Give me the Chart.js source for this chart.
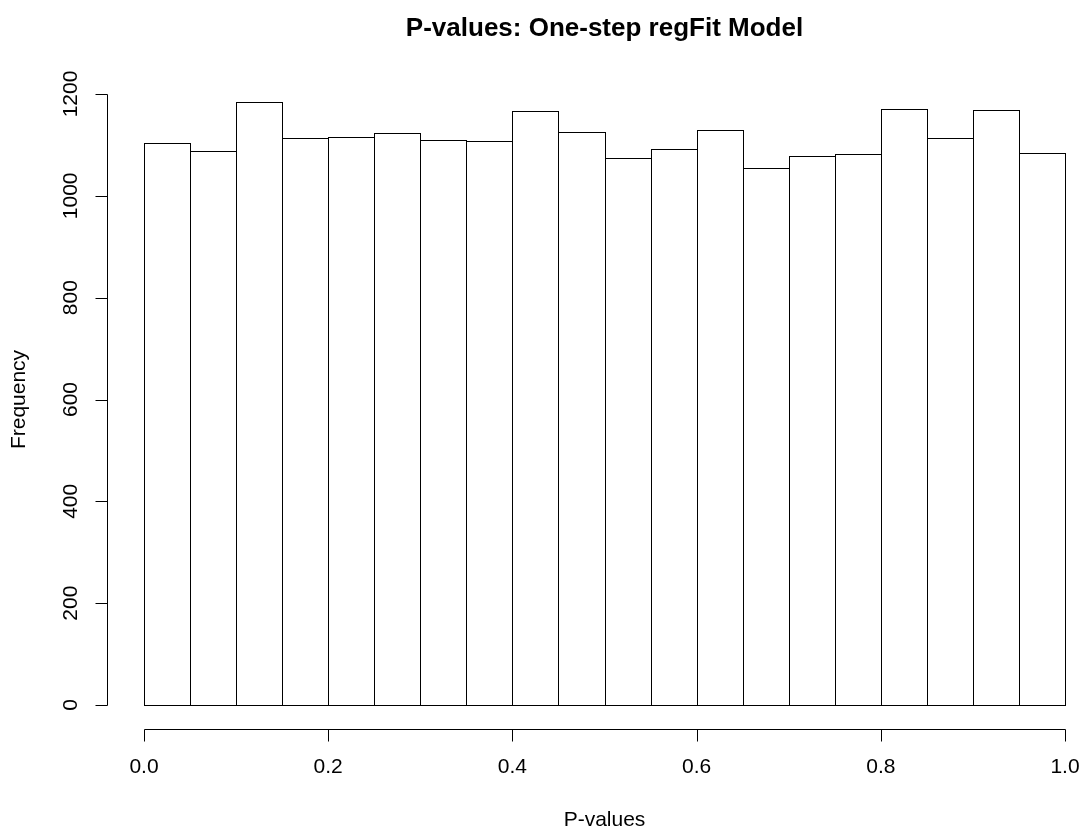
<!DOCTYPE html>
<html>
<head>
<meta charset="utf-8">
<title>P-values: One-step regFit Model</title>
<script src="https://cdn.jsdelivr.net/npm/chart.js@4.4.0/dist/chart.umd.min.js"></script>
<style>
    html, body { margin: 0; padding: 0; background: #fff; }
    canvas { display: block; }
</style>
</head>
<body>
<canvas id="hist" width="1082" height="832"></canvas>
<script>
// histogram bins (20 bins of width 0.05) and their counts
const binLabels = ['0.00-0.05', '0.05-0.10', '0.10-0.15', '0.15-0.20', '0.20-0.25',
                   '0.25-0.30', '0.30-0.35', '0.35-0.40', '0.40-0.45', '0.45-0.50',
                   '0.50-0.55', '0.55-0.60', '0.60-0.65', '0.65-0.70', '0.70-0.75',
                   '0.75-0.80', '0.80-0.85', '0.85-0.90', '0.90-0.95', '0.95-1.00'];
const counts = [1103, 1088, 1184, 1113, 1116, 1124, 1110, 1108, 1167, 1126,
                1074, 1092, 1129, 1055, 1079, 1082, 1171, 1113, 1168, 1085];

// axis ticks
const xTicks = [0, 0.2, 0.4, 0.6, 0.8, 1.0];
const xTickLabels = ['0.0', '0.2', '0.4', '0.6', '0.8', '1.0'];
const yTicks = [0, 200, 400, 600, 800, 1000, 1200];
const yTickLabels = ['0', '200', '400', '600', '800', '1000', '1200'];

const titleText = 'P-values: One-step regFit Model';
const xTitle = 'P-values';
const yTitle = 'Frequency';

const FONT = '"Liberation Sans", Arial, Helvetica, sans-serif';

// snap to a pixel centre the same way for shared bar edges
const crisp = v => Math.round(Math.round(v * 100) / 100) + 0.5;

// R style: outlined bars, axes pulled away from the plot region
const rStyle = {
    id: 'rStyle',
    afterDatasetsDraw(chart) {
        const ctx = chart.ctx;
        const meta = chart.getDatasetMeta(0);
        ctx.save();
        ctx.strokeStyle = '#000';
        ctx.lineWidth = 1;
        meta.data.forEach(bar => {
            const p = bar.getProps(['x', 'y', 'width', 'base'], true);
            const l = crisp(p.x - p.width / 2);
            const r = crisp(p.x + p.width / 2);
            const t = crisp(p.y);
            const b = crisp(p.base);
            ctx.strokeRect(l, t, r - l, b - t);
        });
        ctx.restore();
    },
    afterDraw(chart) {
        const ctx = chart.ctx;
        const area = chart.chartArea;
        const xs = chart.scales.xp;
        const ys = chart.scales.y;
        ctx.save();
        ctx.strokeStyle = '#000';
        ctx.fillStyle = '#000';
        ctx.lineWidth = 1;

        // x axis
        const ax = crisp(area.bottom + 24);
        ctx.beginPath();
        ctx.moveTo(crisp(xs.getPixelForValue(xTicks[0])), ax);
        ctx.lineTo(crisp(xs.getPixelForValue(xTicks[xTicks.length - 1])), ax);
        xTicks.forEach(v => {
            const px = crisp(xs.getPixelForValue(v));
            ctx.moveTo(px, ax);
            ctx.lineTo(px, ax + 12);
        });
        ctx.stroke();

        // y axis
        const ay = crisp(area.left - 37);
        ctx.beginPath();
        ctx.moveTo(ay, crisp(ys.getPixelForValue(yTicks[0])));
        ctx.lineTo(ay, crisp(ys.getPixelForValue(yTicks[yTicks.length - 1])));
        yTicks.forEach(v => {
            const py = crisp(ys.getPixelForValue(v));
            ctx.moveTo(ay, py);
            ctx.lineTo(ay - 12, py);
        });
        ctx.stroke();

        // tick labels
        ctx.font = '21px ' + FONT;
        ctx.textAlign = 'center';
        ctx.textBaseline = 'middle';
        xTicks.forEach((v, i) => {
            ctx.fillText(xTickLabels[i], xs.getPixelForValue(v), ax + 38);
        });
        yTicks.forEach((v, i) => {
            ctx.save();
            ctx.translate(ay - 36, ys.getPixelForValue(v));
            ctx.rotate(-Math.PI / 2);
            ctx.fillText(yTickLabels[i], 0, 0);
            ctx.restore();
        });

        // axis titles
        const cx = (area.left + area.right) / 2;
        ctx.fillText(xTitle, cx, 820);
        ctx.save();
        ctx.translate(19, (area.top + area.bottom) / 2);
        ctx.rotate(-Math.PI / 2);
        ctx.fillText(yTitle, 0, 0);
        ctx.restore();

        // main title
        ctx.font = 'bold 26px ' + FONT;
        ctx.fillText(titleText, cx, 29);
        ctx.restore();
    }
};

new Chart(document.getElementById('hist'), {
    type: 'bar',
    data: {
        labels: binLabels,
        datasets: [{
            data: counts,
            backgroundColor: '#fff',
            borderWidth: 0,
            barPercentage: 1,
            categoryPercentage: 1
        }]
    },
    options: {
        responsive: false,
        animation: false,
        events: [],
        layout: { padding: { left: 144, right: 17, top: 94, bottom: 127 } },
        plugins: { legend: { display: false }, tooltip: { enabled: false }, title: { display: false } },
        scales: {
            x: { display: false },
            xp: { type: 'linear', axis: 'x', position: 'bottom', display: false, offset: false, min: 0, max: 1 },
            y: { display: false, min: 0, max: 1200 }
        }
    },
    plugins: [rStyle]
});
</script>
</body>
</html>
